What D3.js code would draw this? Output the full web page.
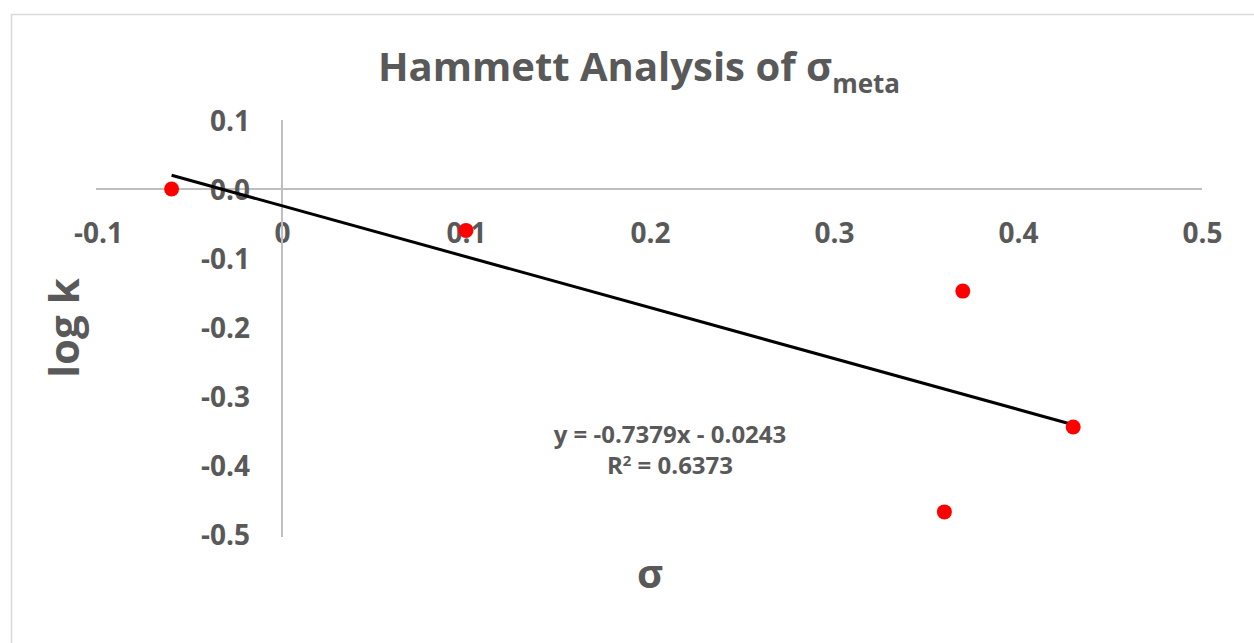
<!DOCTYPE html>
<html>
<head>
<meta charset="utf-8">
<script src="https://cdn.jsdelivr.net/npm/d3@7"></script>
<style>
  html, body { margin: 0; padding: 0; background: #fff; }
  svg { display: block; }
  text { font-family: "Open Sans", Lato, sans-serif; font-weight: bold; fill: #595959; }
</style>
</head>
<body>
<svg id="chart" width="1254" height="643"></svg>
<script>
// Substituent constants (σ) and measured log k values
const sigma = [-0.06, 0.10, 0.37, 0.43, 0.36];
const logK  = [0.00, -0.06, -0.148, -0.345, -0.468];

// Linear trendline reported on the chart
const slope = -0.7379;
const intercept = -0.0243;
const rSquared = 0.6373;

const xTicks = [-0.1, 0, 0.1, 0.2, 0.3, 0.4, 0.5];
const yTicks = [0.1, 0.0, -0.1, -0.2, -0.3, -0.4, -0.5];

const svg = d3.select("#chart");
const W = 1254, H = 643;

// Chart frame
svg.append("rect")
  .attr("x", 11.5).attr("y", 14.5)
  .attr("width", W).attr("height", H)
  .attr("fill", "#fff").attr("stroke", "#d9d9d9").attr("stroke-width", 1.5);

const x = d3.scaleLinear().domain([-0.1, 0.5]).range([98, 1202]);
const y = d3.scaleLinear().domain([0.1, -0.5]).range([120, 534]);

const axisColor = "#bfbfbf";
// Plain hyphen for negative numbers
const fmt = d => d3.format(".1f")(d).replace("−", "-");

// Horizontal axis through y = 0
const xAxis = svg.append("g")
  .attr("transform", `translate(0,${y(0)})`)
  .call(d3.axisBottom(x).tickValues(xTicks).tickSize(0)
    .tickFormat(d => d === 0 ? "0" : fmt(d)));
xAxis.select(".domain").attr("stroke", axisColor).attr("stroke-width", 2)
  .attr("d", `M${x(-0.1) - 2},0H${x(0.5)}`);
xAxis.selectAll(".tick text")
  .attr("y", 0).attr("dy", 0)
  .attr("transform", "translate(0,54)")
  .style("font-size", "28px").attr("fill", "#595959");

// Vertical axis through x = 0
const yAxis = svg.append("g")
  .attr("transform", `translate(${x(0)},0)`)
  .call(d3.axisLeft(y).tickValues(yTicks).tickSize(0).tickFormat(fmt));
yAxis.select(".domain").attr("stroke", axisColor).attr("stroke-width", 2)
  .attr("d", `M0,${y(0.1)}V${y(-0.5) + 3}`);
yAxis.selectAll(".tick text")
  .attr("x", -32).attr("dy", "0.36em")
  .style("font-size", "28px").attr("fill", "#595959");

// Trendline across the data range
const xMin = d3.min(sigma), xMax = d3.max(sigma);
svg.append("line")
  .attr("x1", x(xMin)).attr("y1", y(slope * xMin + intercept))
  .attr("x2", x(xMax)).attr("y2", y(slope * xMax + intercept))
  .attr("stroke", "#000").attr("stroke-width", 3);

// Data points
svg.selectAll("circle.pt")
  .data(sigma.map((s, i) => ({ s, k: logK[i] })))
  .join("circle")
  .attr("class", "pt")
  .attr("cx", d => x(d.s)).attr("cy", d => y(d.k))
  .attr("r", 7.5).attr("fill", "#ff0000");

// Title
const title = svg.append("text")
  .attr("x", 639).attr("y", 81)
  .attr("text-anchor", "middle")
  .style("font-size", "40px");
title.append("tspan").text("Hammett Analysis of σ");
title.append("tspan").attr("dy", 12).style("font-size", "26px").text("meta");

// Axis titles
svg.append("text")
  .attr("x", 650).attr("y", 588)
  .attr("text-anchor", "middle")
  .style("font-size", "40px")
  .text("σ");

svg.append("text")
  .attr("transform", "translate(79,328) rotate(-90)")
  .attr("text-anchor", "middle")
  .style("font-size", "42px")
  .text("log k");

// Trendline equation
const eq = svg.append("text")
  .attr("x", 670).attr("y", 443)
  .attr("text-anchor", "middle")
  .style("font-size", "24px");
eq.append("tspan").attr("x", 670)
  .text(`y = ${slope}x - ${Math.abs(intercept).toFixed(4)}`);
const r2 = eq.append("tspan").attr("x", 670).attr("dy", 31);
r2.append("tspan").text("R");
r2.append("tspan").attr("dy", -8).style("font-size", "15px").text("2");
r2.append("tspan").attr("dy", 8).text(` = ${rSquared}`);
</script>
</body>
</html>
